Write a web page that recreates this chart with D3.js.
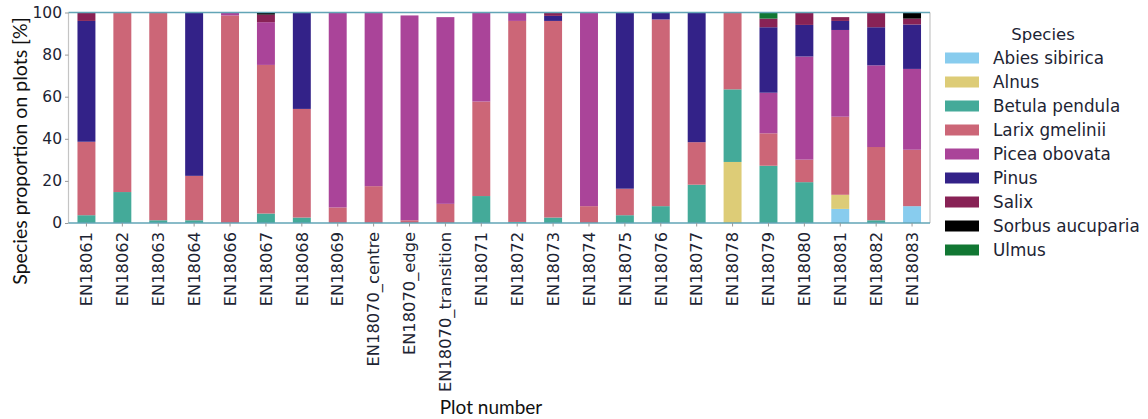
<!DOCTYPE html>
<html>
<head>
<meta charset="utf-8">
<script src="https://cdn.jsdelivr.net/npm/d3@7"></script>
<style>
  body { margin: 0; background: #fff; }
  svg { display: block; }
</style>
</head>
<body>
<svg id="chart" width="1148" height="419"></svg>
<script>
// Plot identifiers along the x axis
const plots = ["EN18061","EN18062","EN18063","EN18064","EN18066","EN18067","EN18068","EN18069",
  "EN18070_centre","EN18070_edge","EN18070_transition","EN18071","EN18072","EN18073","EN18074",
  "EN18075","EN18076","EN18077","EN18078","EN18079","EN18080","EN18081","EN18082","EN18083"];

// Species in stacking order (bottom to top)
const species = ["Abies sibirica","Alnus","Betula pendula","Larix gmelinii","Picea obovata",
  "Pinus","Salix","Sorbus aucuparia","Ulmus"];
const speciesColors = ["#88CCEE","#DDCC77","#44AA99","#CC6677","#AA4499",
  "#332288","#882255","#000000","#117733"];

// Share of each species per plot [%], one value per plot
const abies   = [0,0,0,0,0,0,0,0, 0,0,0, 0,0,0,0,0, 0,0,0,0,0, 6.7,0,8.0];
const alnus   = [0,0,0,0,0,0,0,0, 0,0,0, 0,0,0,0,0, 0,0,29.0,0,0, 6.7,0,0];
const betula  = [3.7,14.7,1.3,1.3,0,4.5,2.6,0, 0,0,0, 12.8,0.5,2.6,0,3.7, 8.0,18.2,34.5,27.2,19.4, 0,1.3,0];
const larix   = [34.9,85.3,98.7,21.1,98.6,70.6,51.6,7.4, 17.5,1.3,9.1, 44.9,95.5,93.4,8.0,12.6, 88.7,20.2,36.5,15.4,10.7, 37.1,34.8,26.8];
const picea   = [0,0,0,0,1.4,20.3,0,92.6, 82.5,97.3,88.7, 42.3,4.0,0,92.0,0, 0,0,0,19.3,49.0, 41.2,38.8,38.4];
const pinus   = [57.4,0,0,77.6,0,0,45.8,0, 0,0,0, 0,0,2.4,0,83.7, 3.3,61.6,0,31.1,15.0, 4.3,18.1,21.1];
const salix   = [4.0,0,0,0,0,3.6,0,0, 0,0,0, 0,0,1.6,0,0, 0,0,0,4.1,5.9, 1.8,7.0,2.8];
const sorbus  = [0,0,0,0,0,1.0,0,0, 0,0,0, 0,0,0,0,0, 0,0,0,0,0, 0,0,2.9];
const ulmus   = [0,0,0,0,0,0,0,0, 0,0,0, 0,0,0,0,0, 0,0,0,2.9,0, 0,0,0];

const yTicks = [0, 20, 40, 60, 80, 100];

const seriesValues = [abies, alnus, betula, larix, picea, pinus, salix, sorbus, ulmus];
const rows = plots.map((p, i) => {
  const r = { plot: p };
  species.forEach((s, k) => { r[s] = seriesValues[k][i]; });
  return r;
});

const svg = d3.select("#chart");
const plotLeft = 68.5, plotRight = 930, plotTop = 12.5, plotBottom = 223;

const x = d3.scaleBand().domain(plots).range([plotLeft, plotRight]).paddingInner(0.5).paddingOuter(0.25);
const y = d3.scaleLinear().domain([0, 100]).range([plotBottom, plotTop]);
const color = d3.scaleOrdinal().domain(species).range(speciesColors);

const stacked = d3.stack().keys(species)(rows);

// Stacked bars
svg.append("g").selectAll("g").data(stacked).join("g")
  .attr("fill", d => color(d.key))
  .selectAll("rect").data(d => d.filter(s => s[1] - s[0] > 0)).join("rect")
  .attr("x", d => x(d.data.plot))
  .attr("width", x.bandwidth())
  .attr("y", d => y(d[1]))
  .attr("height", d => y(d[0]) - y(d[1]));

// Frame
const frame = svg.append("g").attr("fill", "none");
frame.append("line").attr("x1", plotLeft).attr("x2", plotLeft).attr("y1", plotTop).attr("y2", plotBottom)
  .attr("stroke", "#c4c4c4").attr("stroke-width", 1.2);
frame.append("line").attr("x1", plotRight).attr("x2", plotRight).attr("y1", plotTop).attr("y2", plotBottom)
  .attr("stroke", "#c4c4c4").attr("stroke-width", 1.2);
frame.append("line").attr("x1", plotLeft).attr("x2", plotRight).attr("y1", plotTop).attr("y2", plotTop)
  .attr("stroke", "#62a5b6").attr("stroke-width", 1.4);
frame.append("line").attr("x1", plotLeft).attr("x2", plotRight).attr("y1", plotBottom).attr("y2", plotBottom)
  .attr("stroke", "#62a5b6").attr("stroke-width", 1.4);

// Y axis
const yAxis = svg.append("g").attr("transform", `translate(${plotLeft},0)`)
  .call(d3.axisLeft(y).tickValues(yTicks).tickSize(3.5).tickPadding(3));
yAxis.select(".domain").remove();
yAxis.selectAll(".tick line").attr("stroke", "#999");
yAxis.selectAll(".tick text")
  .attr("font-family", "DejaVu Sans, sans-serif").attr("font-size", "15.5px").attr("fill", "#1d2433");

// X axis
const xAxis = svg.append("g").attr("transform", `translate(0,${plotBottom})`)
  .call(d3.axisBottom(x).tickSize(3.5).tickPadding(0));
xAxis.select(".domain").remove();
xAxis.selectAll(".tick line").attr("stroke", "#999");
xAxis.selectAll(".tick text")
  .attr("font-family", "DejaVu Sans, sans-serif").attr("font-size", "16.3px").attr("fill", "#1d2433")
  .attr("transform", "rotate(-90)")
  .attr("text-anchor", "end")
  .attr("dy", "0.35em")
  .attr("x", -9)
  .attr("y", 0);

// Axis titles
svg.append("text")
  .attr("transform", "translate(27,151) rotate(-90)")
  .attr("text-anchor", "middle")
  .attr("font-family", "Lato, sans-serif").attr("font-size", "19.5px").attr("fill", "#111")
  .text("Species proportion on plots [%]");

svg.append("text")
  .attr("x", 491).attr("y", 414)
  .attr("text-anchor", "middle")
  .attr("font-family", "Lato, sans-serif").attr("font-size", "19px").attr("fill", "#111")
  .text("Plot number");

// Legend
const legend = svg.append("g");
legend.append("text")
  .attr("x", 1043).attr("y", 40)
  .attr("text-anchor", "middle")
  .attr("font-family", "DejaVu Sans, sans-serif").attr("font-size", "16.5px").attr("fill", "#1d2433")
  .text("Species");
const item = legend.selectAll("g.item").data(species).join("g")
  .attr("class", "item")
  .attr("transform", (d, i) => `translate(945,${58 + i * 24})`);
item.append("rect")
  .attr("x", 0).attr("y", -5.5).attr("width", 34).attr("height", 11)
  .attr("fill", d => color(d));
item.append("text")
  .attr("x", 48).attr("y", 0).attr("dy", "0.35em")
  .attr("font-family", "DejaVu Sans, sans-serif").attr("font-size", "16.8px").attr("fill", "#1d2433")
  .text(d => d);
</script>
</body>
</html>
